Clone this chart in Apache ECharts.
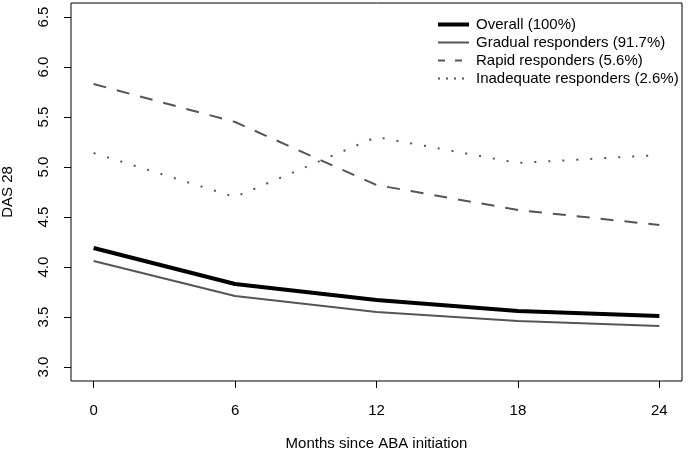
<!DOCTYPE html>
<html>
<head>
<meta charset="utf-8">
<script src="https://cdn.jsdelivr.net/npm/echarts@6/dist/echarts.min.js"></script>
<style>html,body{margin:0;padding:0;background:#fff}#c{width:688px;height:454px}</style>
</head>
<body>
<div id="c"></div>
<script>
const months = [0, 6, 12, 18, 24];
const overall = [4.19, 3.83, 3.67, 3.56, 3.51];
const gradual = [4.06, 3.71, 3.55, 3.46, 3.41];
const rapid = [5.83, 5.45, 4.82, 4.57, 4.42];
const inadequate = [5.14, 4.70, 5.30, 5.04, 5.12];
const seriesNames = ['Overall (100%)', 'Gradual responders (91.7%)', 'Rapid responders (5.6%)', 'Inadequate responders (2.6%)'];
const xTicks = [0, 6, 12, 18, 24];
const yTicks = [3.0, 3.5, 4.0, 4.5, 5.0, 5.5, 6.0, 6.5];

const font = 'Liberation Sans';
const pairs = arr => months.map((m, i) => [m, arr[i]]);
const chart = echarts.init(document.getElementById('c'), null, {renderer: 'canvas'});
chart.setOption({
  animation: false,
  textStyle: {fontFamily: font, color: '#000'},
  grid: {left: 71, right: 6, top: 3, bottom: 73, containLabel: false, outerBoundsMode: 'none',
    show: true, borderColor: '#000', borderWidth: 1, backgroundColor: 'transparent'},
  xAxis: {
    type: 'value', min: -0.96, max: 24.96,
    name: 'Months since ABA initiation', nameLocation: 'middle', nameGap: 55,
    nameTextStyle: {fontFamily: font, fontSize: 15, color: '#000'},
    axisLine: {show: false, onZero: false},
    splitLine: {show: false},
    axisTick: {show: true, length: 7, inside: false, customValues: xTicks, lineStyle: {color: '#000', width: 1}},
    axisLabel: {customValues: xTicks, margin: 22, fontFamily: font, fontSize: 15, color: '#000'}
  },
  yAxis: {
    type: 'value', min: 2.86, max: 6.64,
    name: 'DAS 28', nameLocation: 'middle', nameGap: 56, nameRotate: 90,
    nameTextStyle: {fontFamily: font, fontSize: 15, color: '#000'},
    axisLine: {show: false, onZero: false},
    splitLine: {show: false},
    axisTick: {show: true, length: 7, inside: false, customValues: yTicks, lineStyle: {color: '#000', width: 1}},
    axisLabel: {customValues: yTicks, rotate: 90, margin: 20, fontFamily: font, fontSize: 15, color: '#000',
      formatter: v => Number(v).toFixed(1)}
  },
  legend: {
    orient: 'vertical', left: 431, top: 12,
    itemWidth: 31, itemHeight: 14, itemGap: 3,
    itemStyle: {color: 'transparent', borderColor: 'transparent', borderWidth: 0},
    textStyle: {fontFamily: font, fontSize: 15, color: '#000', padding: [0, 0, 0, 2]},
    data: [
      {name: seriesNames[0], lineStyle: {width: 4}},
      {name: seriesNames[1]},
      {name: seriesNames[2], lineStyle: {type: [7, 10]}},
      {name: seriesNames[3], lineStyle: {type: [2, 6]}}
    ]
  },
  series: [
    {name: seriesNames[0], type: 'line', data: pairs(overall), symbol: 'none', lineStyle: {color: '#000', width: 4}, itemStyle: {color: '#000'}, z: 5},
    {name: seriesNames[1], type: 'line', data: pairs(gradual), symbol: 'none', lineStyle: {color: '#555', width: 2}, itemStyle: {color: '#555'}},
    {name: seriesNames[2], type: 'line', data: pairs(rapid), symbol: 'none', lineStyle: {color: '#555', width: 2, type: [13, 11]}, itemStyle: {color: '#555'}},
    {name: seriesNames[3], type: 'line', data: pairs(inadequate), symbol: 'none', lineStyle: {color: '#555', width: 2, type: [2, 12]}, itemStyle: {color: '#555'}}
  ]
});
</script>
</body>
</html>
